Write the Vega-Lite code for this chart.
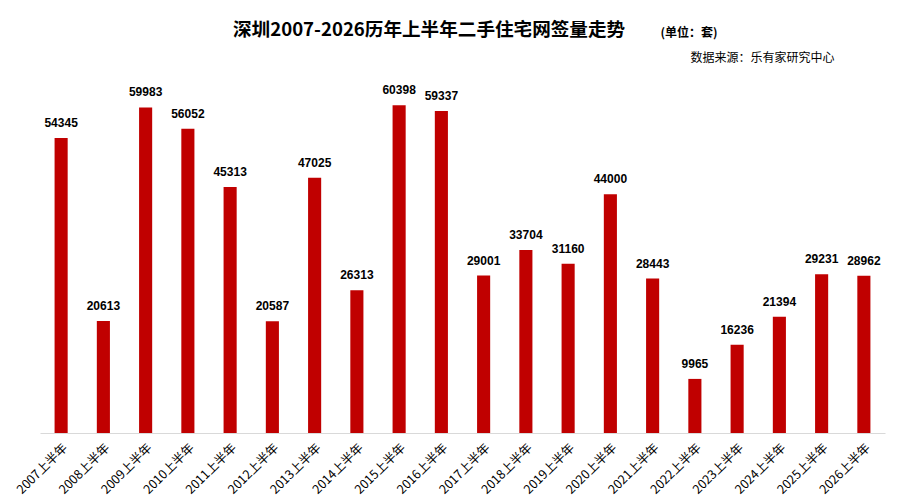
{
  "$schema": "https://vega.github.io/schema/vega-lite/v6.json",
  "autosize": "none",
  "width": 845,
  "height": 380,
  "padding": {"left": 40, "top": 53, "right": 14, "bottom": 71},
  "background": "white",
  "title": {
    "text": "深圳2007-2026历年上半年二手住宅网签量走势",
    "anchor": "start",
    "frame": "group",
    "dx": 193,
    "dy": 24,
    "offset": 10,
    "font": "Noto Sans CJK SC",
    "fontSize": 18.6,
    "fontWeight": "bold",
    "color": "#000000"
  },
  "data": {
    "values": [
      {"period": "2007上半年", "deals": 54345},
      {"period": "2008上半年", "deals": 20613},
      {"period": "2009上半年", "deals": 59983},
      {"period": "2010上半年", "deals": 56052},
      {"period": "2011上半年", "deals": 45313},
      {"period": "2012上半年", "deals": 20587},
      {"period": "2013上半年", "deals": 47025},
      {"period": "2014上半年", "deals": 26313},
      {"period": "2015上半年", "deals": 60398},
      {"period": "2016上半年", "deals": 59337},
      {"period": "2017上半年", "deals": 29001},
      {"period": "2018上半年", "deals": 33704},
      {"period": "2019上半年", "deals": 31160},
      {"period": "2020上半年", "deals": 44000},
      {"period": "2021上半年", "deals": 28443},
      {"period": "2022上半年", "deals": 9965},
      {"period": "2023上半年", "deals": 16236},
      {"period": "2024上半年", "deals": 21394},
      {"period": "2025上半年", "deals": 29231},
      {"period": "2026上半年", "deals": 28962}
    ]
  },
  "encoding": {
    "x": {
      "field": "period",
      "type": "nominal",
      "sort": null,
      "scale": {"paddingInner": 0.69, "paddingOuter": 0.345},
      "axis": {
        "title": "数据来源：乐有家研究中心",
        "titleX": 794,
        "titleY": -376,
        "titleAlign": "right",
        "titleBaseline": "middle",
        "titleFont": "Noto Sans CJK SC",
        "titleFontSize": 12,
        "titleFontWeight": "normal",
        "titleColor": "#000000",
        "labelAngle": -45,
        "labelFont": "Noto Sans CJK SC",
        "labelFontSize": 12.5,
        "labelColor": "#000000",
        "labelPadding": 8,
        "ticks": false,
        "domainColor": "#d9d9d9",
        "domainWidth": 1.2
      }
    },
    "y": {
      "field": "deals",
      "type": "quantitative",
      "scale": {"domain": [0, 70000]},
      "axis": {
        "title": "(单位：套)",
        "titleAngle": 0,
        "titleX": 620,
        "titleY": -21,
        "titleAlign": "left",
        "titleBaseline": "middle",
        "titleFont": "Noto Sans CJK SC",
        "titleFontSize": 12,
        "titleFontWeight": "bold",
        "titleColor": "#000000",
        "domain": false,
        "ticks": false,
        "labels": false,
        "grid": false
      }
    }
  },
  "layer": [
    {
      "mark": {"type": "bar", "color": "#C00000"}
    },
    {
      "mark": {
        "type": "text",
        "baseline": "alphabetic",
        "dy": -11,
        "font": "Liberation Sans",
        "fontSize": 12,
        "fontWeight": "bold",
        "color": "#000000"
      },
      "encoding": {"text": {"field": "deals", "type": "quantitative", "format": "d"}}
    }
  ],
  "config": {
    "view": {"stroke": null}
  }
}
